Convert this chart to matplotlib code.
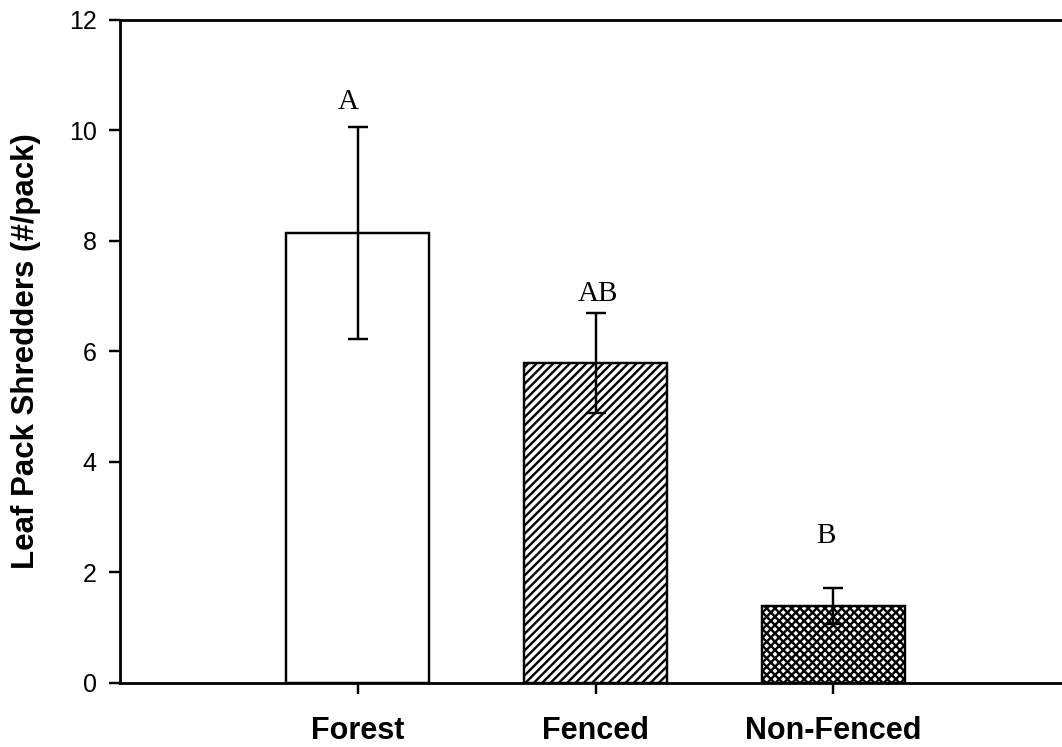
import matplotlib
matplotlib.use("Agg")
import matplotlib.pyplot as plt

categories = ["Forest", "Fenced", "Non-Fenced"]
means = [8.14, 5.79, 1.39]
errors = [1.91, 0.90, 0.32]
letters = ["A", "AB", "B"]
letter_y = [10.39, 6.90, 2.54]
hatches = ["", "////", "xxxx"]
y_ticks = [0, 2, 4, 6, 8, 10, 12]

plt.rcParams["hatch.linewidth"] = 1.7
fig = plt.figure(figsize=(10.62, 7.47), dpi=100)
ax = fig.add_axes([120 / 1062, (747 - 683) / 747, 951 / 1062, (683 - 19.5) / 747])

x = [1, 2, 3]
ax.bar(x, means, width=0.6, color="white", edgecolor="black", linewidth=1.75,
       zorder=2)
for b, h in zip(ax.patches, hatches):
    b.set_hatch(h)
ax.errorbar(x, means, yerr=errors, fmt="none", ecolor="black", elinewidth=1.75,
            capsize=7, capthick=1.75, zorder=3)

offsets = [-0.04, 0.01, -0.03]
for xi, lab, ly, off in zip(x, letters, letter_y, offsets):
    ax.text(xi + off, ly, lab, ha="center", va="baseline",
            fontsize=21, family="Liberation Serif")

ax.set_xlim(0, 4)
ax.set_ylim(0, 12)
ax.set_yticks(y_ticks)
ax.set_yticklabels([str(v) for v in y_ticks], fontsize=18, family="Liberation Sans")
ax.set_xticks(x)
ax.set_xticklabels(categories, fontsize=22, fontweight="bold", family="Liberation Sans")
ax.tick_params(axis="both", direction="out", length=7.7, width=1.75)
ax.tick_params(axis="y", pad=9)
ax.tick_params(axis="x", pad=16)
ax.set_ylabel("Leaf Pack Shredders (#/pack)", fontsize=22.5, fontweight="bold",
              family="Liberation Sans", labelpad=20)

for s in ["left", "bottom", "top"]:
    ax.spines[s].set_linewidth(2)
ax.spines["right"].set_visible(False)

fig.savefig("out.png", dpi=100)
